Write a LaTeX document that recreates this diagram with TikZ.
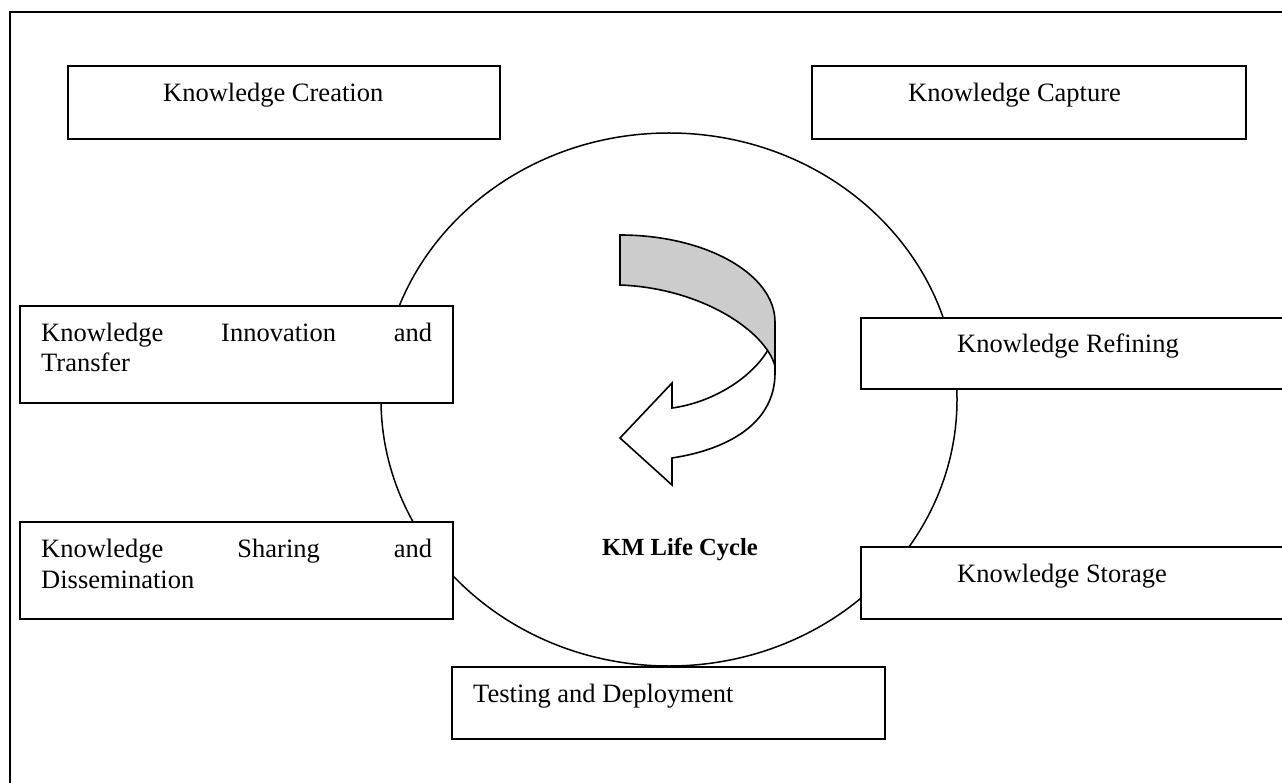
\documentclass[tikz,border=0pt]{standalone}
\usepackage{fontspec}
\setmainfont{Liberation Serif}
\usetikzlibrary{shapes.geometric}
\tikzset{
  box/.style={draw, line width=1.6pt, fill=white, rectangle, inner sep=0pt, outer sep=0pt, anchor=north west},
  lbl/.style={inner sep=0pt, anchor=base west, font=\fontsize{26.5}{30}\selectfont},
  ribbon/.style={draw, line width=1.6pt, line join=miter},
}
\begin{document}
\begin{tikzpicture}[x=1pt,y=-1pt]
\useasboundingbox (0,0) rectangle (1282,783);
\begin{scope}
\clip (0,0) rectangle (1282,783);
% outer frame
\draw[line width=1.9pt] (1300,12) -- (10,12) -- (10,800);
% cycle
\node[draw, line width=1.5pt, ellipse, minimum width=576pt, minimum height=533pt, inner sep=0pt] (cycle) at (669,399.5) {};
% boxes
\node[box, minimum width=432pt, minimum height=73pt] (creation) at (68,66) {};
\node[box, minimum width=434pt, minimum height=73pt] (capture) at (812,66) {};
\node[box, minimum width=433pt, minimum height=97pt] (innov) at (20,306) {};
\node[box, minimum width=433pt, minimum height=97pt] (sharing) at (20,522) {};
\node[box, minimum width=440pt, minimum height=71pt] (refining) at (861,318) {};
\node[box, minimum width=440pt, minimum height=72pt] (storage) at (861,547) {};
\node[box, minimum width=433pt, minimum height=72pt] (testing) at (452,667) {};
\end{scope}
% labels
\node[lbl] (tcreation) at (163,102) {Knowledge Creation};
\node[lbl] (tcapture) at (908,102) {Knowledge Capture};
\node[lbl] (tinnov1) at (41,342) {\hbox to 391pt{Knowledge\hfill Innovation\hfill and}};
\node[lbl] (tinnov2) at (41,372) {Transfer};
\node[lbl] (tsharing1) at (41,557) {\hbox to 391pt{Knowledge\hfill Sharing\hfill and}};
\node[lbl] (tsharing2) at (41,588) {Dissemination};
\node[lbl] (trefining) at (957,353) {Knowledge Refining};
\node[lbl] (tstorage) at (957,582) {Knowledge Storage};
\node[lbl] (ttesting) at (473,702) {Testing and Deployment};
\node[inner sep=0pt, anchor=base, font=\fontsize{24.6}{28}\selectfont\bfseries] (km) at (680,555) {KM Life Cycle};
% curved arrow: front part
\path[ribbon, fill=white] (768,350) .. controls (750,380) and (710,403) .. (672,408)
  -- (672,383) -- (620,438) -- (672,485) -- (672,458)
  .. controls (725,450) and (775,425) .. (775,373) -- (775,345) -- cycle;
% curved arrow: back part
\path[ribbon, fill=black!20] (620,235) .. controls (705.6,235) and (775,274) .. (775,322)
  -- (775,366) .. controls (765,330) and (700,288) .. (620,285) -- cycle;
\end{tikzpicture}
\end{document}
